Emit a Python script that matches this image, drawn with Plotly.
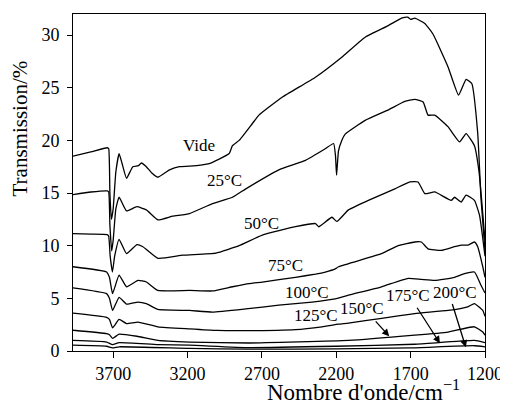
import plotly.graph_objects as go

# wavenumber (cm-1) / transmission (%)
vide_x = [3970, 3850, 3740, 3730, 3722, 3712, 3700, 3682, 3660, 3640, 3610, 3568, 3530, 3510, 3477, 3440, 3399, 3321, 3254, 3187, 3054, 2920, 2898, 2853, 2764, 2720, 2564, 2340, 2163, 2006, 1850, 1761, 1720, 1700, 1672, 1605, 1550, 1449, 1378, 1327, 1289, 1249, 1227, 1200]
vide_y = [18.5, 18.9, 19.3, 19.2, 15.0, 12.5, 13.5, 17.0, 18.75, 17.8, 16.4, 17.5, 17.6, 17.85, 17.5, 16.9, 16.5, 17.2, 17.5, 17.55, 17.8, 18.75, 19.5, 20.0, 21.6, 22.4, 24.1, 26.0, 27.9, 29.8, 30.9, 31.6, 31.7, 31.5, 31.6, 31.1, 30.1, 27.0, 24.3, 25.8, 25.4, 20.7, 14.5, 9.5]

c25_x = [3970, 3850, 3740, 3730, 3722, 3710, 3700, 3682, 3660, 3610, 3540, 3477, 3399, 3300, 3187, 3032, 2898, 2808, 2586, 2407, 2274, 2218, 2205, 2198, 2185, 2163, 2140, 2006, 1850, 1739, 1672, 1616, 1583, 1538, 1449, 1371, 1327, 1271, 1240, 1200]
c25_y = [14.85, 15.1, 15.2, 15.1, 12.0, 9.5, 10.5, 13.5, 14.6, 13.3, 13.7, 13.4, 12.45, 12.8, 13.05, 14.0, 14.6, 15.4, 17.2, 18.1, 19.2, 19.7, 18.5, 16.7, 19.0, 20.0, 20.6, 21.9, 22.9, 23.7, 23.9, 23.65, 22.4, 22.4, 21.3, 19.85, 20.65, 19.5, 17.0, 10.5]

c50_x = [3970, 3850, 3740, 3730, 3720, 3705, 3690, 3660, 3610, 3540, 3500, 3399, 3230, 3009, 2853, 2697, 2474, 2340, 2318, 2229, 2196, 2118, 1984, 1806, 1705, 1650, 1605, 1538, 1427, 1405, 1360, 1327, 1271, 1237, 1200]
c50_y = [11.15, 11.1, 11.05, 10.9, 9.0, 7.5, 9.0, 10.6, 9.25, 10.1, 9.9, 8.8, 9.1, 9.3, 10.0, 11.0, 11.8, 12.1, 11.8, 12.7, 12.3, 13.4, 14.3, 15.4, 16.05, 16.05, 14.95, 15.1, 14.3, 14.6, 14.15, 14.8, 14.3, 12.9, 9.0]

c75_x = [3970, 3744, 3725, 3704, 3660, 3610, 3533, 3477, 3399, 3187, 3032, 2898, 2786, 2697, 2474, 2340, 2274, 2207, 2185, 1895, 1784, 1672, 1628, 1583, 1494, 1405, 1360, 1316, 1271, 1249, 1215, 1200]
c75_y = [8.0, 7.5, 7.0, 5.45, 7.2, 6.1, 6.7, 6.55, 5.75, 5.75, 5.7, 6.1, 6.4, 6.55, 7.0, 7.3, 7.5, 7.8, 8.0, 9.25, 10.0, 10.35, 10.35, 9.7, 9.55, 9.9, 10.05, 10.05, 10.35, 9.9, 8.0, 7.0]

c100_x = [3970, 3744, 3725, 3704, 3660, 3610, 3533, 3477, 3399, 3187, 3032, 2808, 2586, 2363, 2207, 2118, 1895, 1717, 1628, 1538, 1405, 1338, 1271, 1227, 1200]
c100_y = [6.0, 5.45, 5.0, 3.85, 5.1, 4.45, 4.65, 4.5, 3.95, 3.85, 3.7, 4.0, 4.35, 4.65, 4.95, 5.3, 6.1, 6.9, 6.8, 6.7, 7.0, 7.35, 7.5, 6.25, 5.5]

c125_x = [3970, 3744, 3725, 3704, 3660, 3610, 3533, 3399, 3187, 3000, 2808, 2474, 2296, 2185, 2118, 1895, 1672, 1449, 1316, 1271, 1215, 1200]
c125_y = [3.6, 3.2, 3.0, 2.2, 3.0, 2.6, 2.75, 2.3, 2.1, 1.95, 1.93, 2.03, 2.3, 2.55, 2.65, 3.1, 3.55, 3.85, 4.2, 4.5, 3.85, 3.3]

c150_x = [3970, 3744, 3725, 3704, 3660, 3540, 3399, 3187, 2786, 2118, 1672, 1449, 1271, 1215, 1200]
c150_y = [1.97, 1.65, 1.55, 1.2, 1.6, 1.4, 1.0, 0.85, 0.76, 1.0, 1.5, 1.8, 2.3, 1.8, 1.5]

c175_x = [3970, 3744, 3704, 3660, 3399, 3187, 2786, 2200, 1672, 1271, 1200]
c175_y = [1.0, 0.85, 0.6, 0.8, 0.6, 0.55, 0.32, 0.45, 0.64, 1.0, 0.8]

c200_x = [3970, 3744, 3704, 3660, 3187, 2786, 2200, 1700, 1271, 1200]
c200_y = [0.55, 0.45, 0.3, 0.4, 0.25, 0.18, 0.2, 0.3, 0.5, 0.4]

series = [vide_x, c25_x, c50_x, c75_x, c100_x, c125_x, c150_x, c175_x, c200_x]
values = [vide_y, c25_y, c50_y, c75_y, c100_y, c125_y, c150_y, c175_y, c200_y]

label_texts = ["Vide", "25°C", "50°C", "75°C", "100°C", "125°C", "150°C", "175°C", "200°C"]
label_x = [3120, 2954, 2706, 2539, 2400, 2335, 2024, 1717, 1403]
label_y = [19.5, 16.2, 12.1, 8.1, 5.6, 3.4, 4.0, 5.3, 5.6]

arrow_tail_x = [1944, 1663, 1423]
arrow_tail_y = [2.95, 4.25, 4.6]
arrow_head_x = [1844, 1503, 1329]
arrow_head_y = [1.4, 0.73, 0.35]

x_ticks = [3700, 3200, 2700, 2200, 1700, 1200]
y_ticks = [0, 5, 10, 15, 20, 25, 30]

FONT = "Liberation Serif"

fig = go.Figure()
for xs, ys in zip(series, values):
    fig.add_trace(go.Scatter(x=xs, y=ys, mode="lines",
                             line=dict(color="black", width=1.3,
                                       shape="spline", smoothing=0.4),
                             showlegend=False, hoverinfo="skip"))

for t, lx, ly in zip(label_texts, label_x, label_y):
    fig.add_annotation(x=lx, y=ly, xref="x", yref="y", text=t, showarrow=False,
                       xanchor="center", yanchor="middle",
                       font=dict(family=FONT, size=17, color="black"))

for tx, ty, hx, hy in zip(arrow_tail_x, arrow_tail_y, arrow_head_x, arrow_head_y):
    fig.add_annotation(x=hx, y=hy, ax=tx, ay=ty, xref="x", yref="y",
                       axref="x", ayref="y", text="", showarrow=True,
                       arrowhead=2, arrowsize=1.1, arrowwidth=1.3,
                       arrowcolor="black")

fig.add_annotation(x=-0.128, y=0.661, xref="paper", yref="paper",
                   text="Transmission/%", textangle=-90, showarrow=False,
                   xanchor="center", yanchor="middle",
                   font=dict(family=FONT, size=21, color="black"))
fig.add_annotation(x=0.705, y=-0.118, xref="paper", yref="paper",
                   text="Nombre d'onde/cm<sup>−1</sup>", showarrow=False,
                   xanchor="center", yanchor="middle",
                   font=dict(family=FONT, size=23, color="black"))

fig.update_xaxes(range=[3970, 1200], tickvals=x_ticks,
                 ticktext=[str(v) for v in x_ticks],
                 ticks="outside", ticklen=6, tickwidth=1, tickcolor="black",
                 showline=True, linecolor="black", linewidth=1, mirror=True,
                 showgrid=False, zeroline=False,
                 tickfont=dict(family=FONT, size=18, color="black"))
fig.update_yaxes(range=[0, 32], tickvals=y_ticks,
                 ticks="outside", ticklen=5, tickwidth=1, tickcolor="black",
                 showline=True, linecolor="black", linewidth=1, mirror=True,
                 showgrid=False, zeroline=False, ticklabelstandoff=4,
                 tickfont=dict(family=FONT, size=18, color="black"))

fig.update_layout(width=500, height=397,
                  margin=dict(l=65, r=21, t=5, b=54),
                  plot_bgcolor="white", paper_bgcolor="white")

fig.write_html("out.html")
